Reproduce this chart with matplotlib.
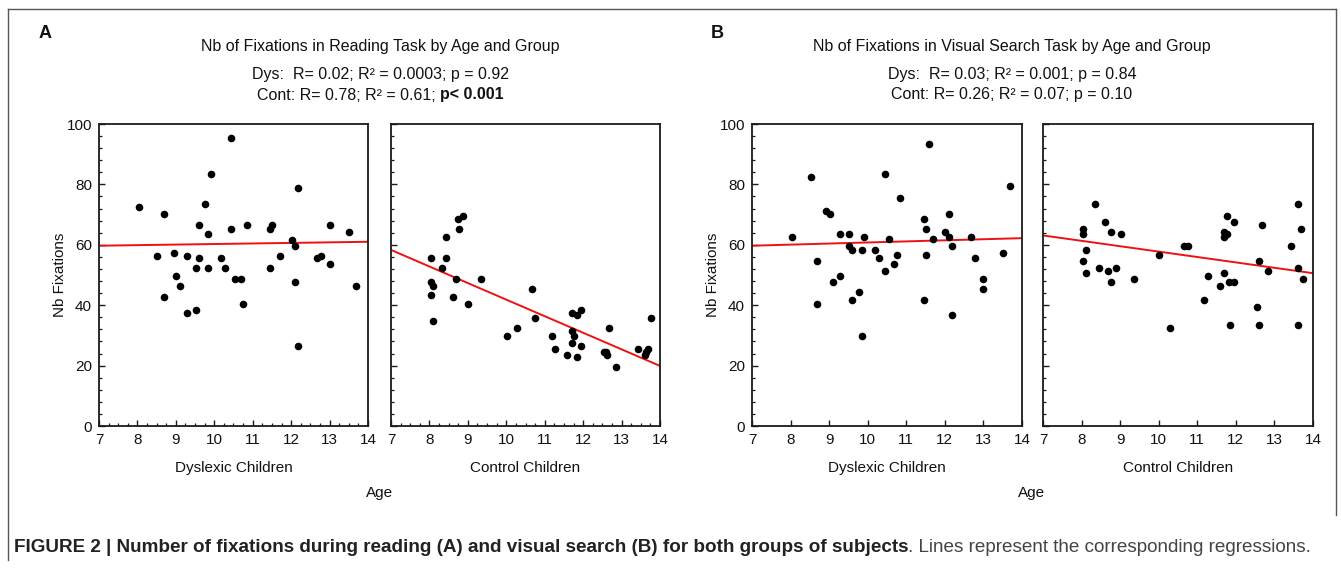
import matplotlib
matplotlib.use("Agg")
import matplotlib.pyplot as plt
from matplotlib.lines import Line2D
from matplotlib.ticker import MultipleLocator
from matplotlib import font_manager
import numpy as np

# ---------------- data ----------------
# Reading task, dyslexic children
read_dys_age = [8.03, 8.69, 8.51, 8.69, 8.94, 9.01, 9.10, 9.28, 9.28, 9.53, 9.53, 9.59, 9.60,
                9.77, 9.84, 9.84, 9.92, 10.18, 10.28, 10.43, 10.43, 10.54, 10.70, 10.75, 10.86,
                11.45, 11.51, 11.45, 11.71, 12.01, 12.10, 12.10, 12.18, 12.18, 12.67, 12.78,
                13.01, 13.01, 13.51, 13.69]
read_dys_fix = [72.6, 70.3, 56.4, 42.6, 57.4, 49.6, 46.5, 56.4, 37.4, 52.2, 38.3, 66.6, 55.6,
                73.5, 63.5, 52.2, 83.3, 55.6, 52.2, 95.5, 65.1, 48.7, 48.7, 40.3, 66.6,
                65.1, 66.6, 52.2, 56.4, 61.7, 59.7, 47.6, 78.7, 26.5, 55.6, 56.4,
                66.6, 53.6, 64.2, 46.5]
# Reading task, control children
read_con_age = [8.03, 8.44, 8.44, 8.75, 8.87, 8.76, 8.34, 8.03, 8.09, 8.03, 8.69, 8.62, 9.00,
                8.09, 9.35, 10.68, 10.74, 10.27, 10.02, 11.19, 11.27, 11.58, 11.70, 11.84,
                11.95, 11.70, 11.77, 11.70, 11.95, 11.84, 12.67, 12.53, 12.61, 12.60, 12.86,
                13.44, 13.63, 13.69, 13.60, 13.77]
read_con_fix = [55.6, 62.6, 55.6, 68.7, 69.5, 65.1, 52.2, 47.7, 46.5, 43.5, 48.7, 42.6, 40.3,
                34.9, 48.7, 45.3, 35.7, 32.6, 29.7, 29.7, 25.4, 23.6, 37.5, 36.8,
                38.3, 31.5, 29.7, 27.4, 26.5, 22.7, 32.6, 24.5, 23.6, 24.5, 19.6,
                25.4, 24.5, 25.4, 23.6, 35.7]
# Visual search task, dyslexic children
vs_dys_age = [8.04, 8.52, 8.69, 8.69, 8.93, 9.01, 9.09, 9.28, 9.28, 9.52, 9.52, 9.59, 9.59,
              9.77, 9.84, 9.84, 9.91, 10.19, 10.28, 10.44, 10.44, 10.55, 10.68, 10.75, 10.85,
              11.45, 11.52, 11.45, 11.52, 11.58, 11.70, 12.01, 12.11, 12.11, 12.18, 12.18,
              12.67, 12.77, 13.00, 13.00, 13.50, 13.68]
vs_dys_fix = [62.6, 82.5, 54.6, 40.4, 71.3, 70.3, 47.6, 63.5, 49.7, 63.5, 59.7, 58.3, 41.8,
              44.5, 58.3, 29.7, 62.6, 58.3, 55.6, 83.3, 51.3, 61.8, 53.6, 56.5, 75.6,
              68.7, 65.1, 41.8, 56.5, 93.5, 61.8, 64.2, 70.3, 62.6, 59.7, 36.6,
              62.6, 55.6, 48.7, 45.3, 57.4, 79.6]
# Visual search task, control children
vs_con_age = [8.04, 8.04, 8.11, 8.04, 8.11, 8.36, 8.45, 8.62, 8.69, 8.75, 8.75, 8.88, 9.01,
              9.35, 10.02, 10.28, 10.66, 10.77, 11.17, 11.27, 11.58, 11.69, 11.69, 11.77,
              11.77, 11.69, 11.82, 11.95, 11.95, 11.84, 12.54, 12.60, 12.67, 12.60, 12.84,
              13.43, 13.61, 13.68, 13.61, 13.75, 13.61]
vs_con_fix = [65.3, 63.5, 58.3, 54.6, 50.6, 73.5, 52.2, 67.5, 51.3, 64.3, 47.6, 52.2, 63.5,
              48.7, 56.5, 32.6, 59.7, 59.7, 41.8, 49.7, 46.5, 64.3, 62.6, 63.5,
              69.5, 50.6, 47.6, 47.6, 67.5, 33.4, 39.5, 54.6, 66.6, 33.4, 51.3,
              59.7, 73.5, 65.3, 52.2, 48.7, 33.4]

# regression lines (value at age 7 and age 14)
reg_ages = [7, 14]
read_dys_reg = [59.7, 61.0]
read_con_reg = [58.3, 19.9]
vs_dys_reg = [59.7, 62.2]
vs_con_reg = [63.1, 50.6]

x_ticks = [7, 8, 9, 10, 11, 12, 13, 14]
y_ticks = [0, 20, 40, 60, 80, 100]
group_labels = ["Dyslexic Children", "Control Children"]
panel_letters = ["A", "B"]
titles = ["Nb of Fixations in Reading Task by Age and Group",
          "Nb of Fixations in Visual Search Task by Age and Group"]
stats_dys = ["Dys:  R= 0.02; R\u00b2 = 0.0003; p = 0.92",
             "Dys:  R= 0.03; R\u00b2 = 0.001; p = 0.84"]
stats_con_A = ["Cont: R= 0.78; R\u00b2 = 0.61; ", "p< 0.001"]
stats_con_B = "Cont: R= 0.26; R\u00b2 = 0.07; p = 0.10"
caption_bold = ("FIGURE 2 | Number of fixations during reading (A) and visual search (B) "
                "for both groups of subjects")
caption_norm = ". Lines represent the corresponding regressions."

# ---------------- fonts ----------------
avail = {f.name for f in font_manager.fontManager.ttflist}
SANS = "Liberation Sans" if "Liberation Sans" in avail else "DejaVu Sans"
NARROW = "Liberation Sans Narrow" if "Liberation Sans Narrow" in avail else SANS
plt.rcParams["font.family"] = [SANS, "DejaVu Sans"]

W, H = 1341, 585
fig = plt.figure(figsize=(W / 100, H / 100), dpi=100)
fig.patch.set_facecolor("white")

def fx(px):
    return px / W

def fy(py):
    return 1 - py / H

AX_TOP, AX_BOT = 124, 426
panels = [
    # (left px, right px, ages, fix, reg, show x minor, show y labels)
    (99, 368, read_dys_age, read_dys_fix, read_dys_reg, True, True),
    (391, 660, read_con_age, read_con_fix, read_con_reg, True, False),
    (752, 1022, vs_dys_age, vs_dys_fix, vs_dys_reg, False, True),
    (1043, 1313, vs_con_age, vs_con_fix, vs_con_reg, False, False),
]

spine_col = "#1a1a1a"
for (l, r, ages, fix, reg, xminor, ylab) in panels:
    ax = fig.add_axes([fx(l), fy(AX_BOT), (r - l) / W, (AX_BOT - AX_TOP) / H])
    ax.set_xlim(7, 14)
    ax.set_ylim(0, 100)
    ax.scatter(ages, fix, s=30, color="black", zorder=3, linewidths=0)
    ax.plot(reg_ages, reg, color="#ee1111", lw=1.4, zorder=2)
    ax.set_xticks(x_ticks)
    ax.set_yticks(y_ticks)
    ax.yaxis.set_minor_locator(MultipleLocator(4))
    if xminor:
        ax.xaxis.set_minor_locator(MultipleLocator(0.25))
    ax.tick_params(axis="both", which="major", direction="in", length=4, width=1,
                   color=spine_col, labelsize=11, labelcolor="#111111")
    ax.tick_params(axis="both", which="minor", direction="in", length=2.2, width=0.9,
                   color=spine_col)
    ax.tick_params(axis="x", pad=5)
    ax.tick_params(axis="y", pad=5)
    if not ylab:
        ax.set_yticklabels([])
    for sp in ax.spines.values():
        sp.set_color(spine_col)
        sp.set_linewidth(1.3)

# Y axis labels
for xpx in (60, 713):
    fig.text(fx(xpx), fy(275), "Nb Fixations", rotation=90, ha="center", va="center",
             fontsize=11, color="#111111")

# group labels and Age
for (cx, lab) in [(234, 0), (525, 1), (887, 0), (1178, 1)]:
    fig.text(fx(cx), fy(468), group_labels[lab], ha="center", va="center",
             fontsize=11, color="#111111")
for cx in (380, 1032):
    fig.text(fx(cx), fy(493), "Age", ha="center", va="center", fontsize=11, color="#111111")

# panel letters
for (cx, letter) in [(45, 0), (717, 1)]:
    fig.text(fx(cx), fy(33), panel_letters[letter], ha="center", va="center",
             fontsize=13, fontweight="bold", color="#111111")

# titles & stats
for (cx, i) in [(380, 0), (1012, 1)]:
    fig.text(fx(cx), fy(47), titles[i], ha="center", va="center", fontsize=11.5,
             color="#111111")
    fig.text(fx(cx), fy(75), stats_dys[i], ha="center", va="center", fontsize=11.5,
             color="#111111")
fig.text(fx(1012), fy(95), stats_con_B, ha="center", va="center", fontsize=11.5,
         color="#111111")

fig.canvas.draw()
renderer = fig.canvas.get_renderer()
# Cont line for panel A with bold p-value, centered as a whole
t1 = fig.text(0, fy(95), stats_con_A[0], ha="left", va="center", fontsize=11.5,
              color="#111111")
t2 = fig.text(0, fy(95), stats_con_A[1], ha="left", va="center", fontsize=11.5,
              fontweight="bold", color="#111111")
w1 = t1.get_window_extent(renderer).width
w2 = t2.get_window_extent(renderer).width
start = 380 - (w1 + w2) / 2
t1.set_x(fx(start))
t2.set_x(fx(start + w1))

# caption
c1 = fig.text(fx(14), fy(548), caption_bold, ha="left", va="center", fontsize=12.5,
              fontweight="bold", color="#222222", family=[NARROW, "DejaVu Sans"])
c2 = fig.text(0, fy(548), caption_norm, ha="left", va="center", fontsize=12.5,
              color="#444444", family=[NARROW, "DejaVu Sans"])
wc1 = c1.get_window_extent(renderer).width
wc2 = c2.get_window_extent(renderer).width
scale = (1318 - 14) / (wc1 + wc2)
c1.set_fontsize(12.5 * scale)
c2.set_fontsize(12.5 * scale)
wc1 = c1.get_window_extent(renderer).width
c2.set_x(fx(14 + wc1))

# frame lines
fcol = "#555555"
fig.add_artist(Line2D([fx(8), fx(1336)], [fy(9), fy(9)], color=fcol, lw=1.0))
fig.add_artist(Line2D([fx(8), fx(8)], [fy(9), fy(560)], color=fcol, lw=1.0))
fig.add_artist(Line2D([fx(1336), fx(1336)], [fy(9), fy(515)], color=fcol, lw=1.0))

fig.savefig("out.png", dpi=100, facecolor="white")
